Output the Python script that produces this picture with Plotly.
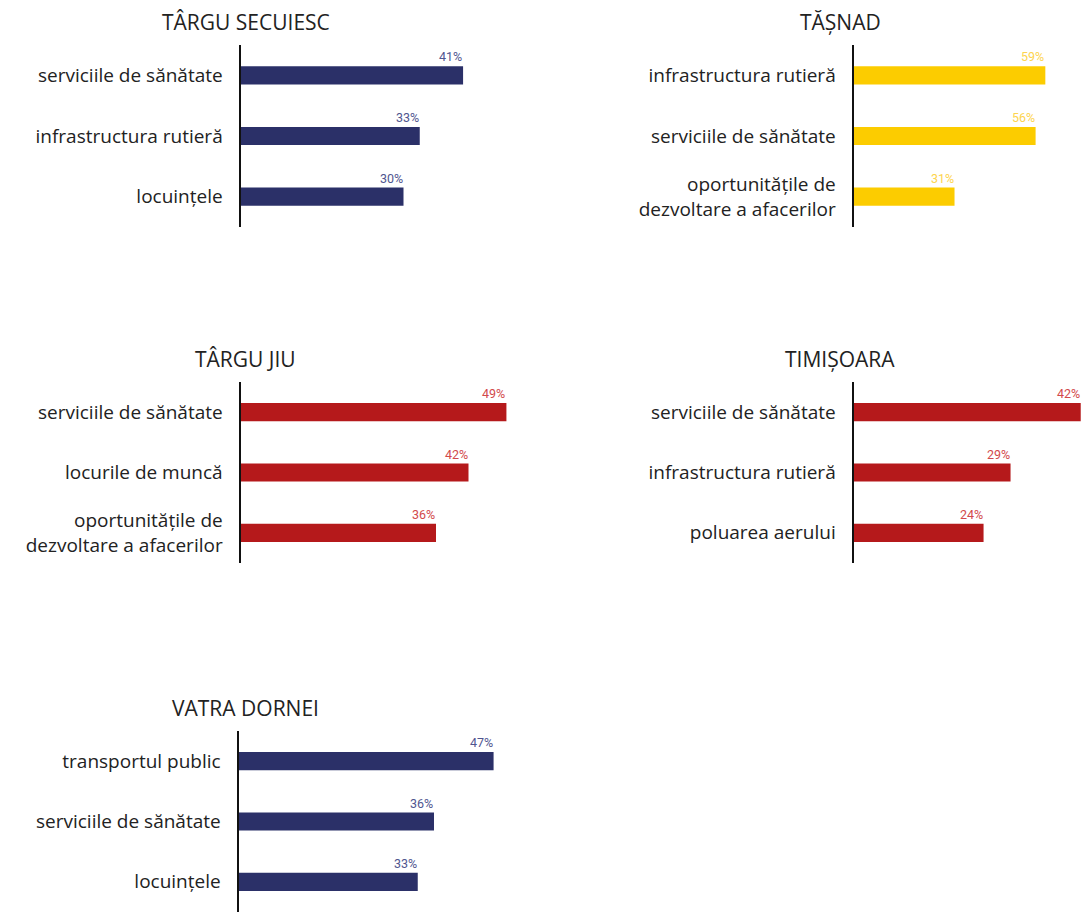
import plotly.graph_objects as go

W, H = 1081, 912

# ---- data ----
titles = ["TÂRGU SECUIESC", "TĂȘNAD", "TÂRGU JIU", "TIMIȘOARA", "VATRA DORNEI"]

cats_targu_secuiesc = ["serviciile de sănătate", "infrastructura rutieră", "locuințele"]
vals_targu_secuiesc = [41, 33, 30]

cats_tasnad = ["infrastructura rutieră", "serviciile de sănătate", "oportunitățile de<br>dezvoltare a afacerilor"]
vals_tasnad = [59, 56, 31]

cats_targu_jiu = ["serviciile de sănătate", "locurile de muncă", "oportunitățile de<br>dezvoltare a afacerilor"]
vals_targu_jiu = [49, 42, 36]

cats_timisoara = ["serviciile de sănătate", "infrastructura rutieră", "poluarea aerului"]
vals_timisoara = [42, 29, 24]

cats_vatra_dornei = ["transportul public", "serviciile de sănătate", "locuințele"]
vals_vatra_dornei = [47, 36, 33]

NAVY, NAVY_L = "#2b3068", "#50558f"
RED, RED_L = "#b5191b", "#d2494b"
YEL, YEL_L = "#fccc00", "#fdd44e"

panels = [
    dict(title=titles[0], cats=cats_targu_secuiesc, vals=vals_targu_secuiesc, col=NAVY, lcol=NAVY_L,
         x0=241, x1=566, xmax=60, ytop=45, ybot=227),
    dict(title=titles[1], cats=cats_tasnad, vals=vals_tasnad, col=YEL, lcol=YEL_L,
         x0=854, x1=1081, xmax=70, ytop=45, ybot=227),
    dict(title=titles[2], cats=cats_targu_jiu, vals=vals_targu_jiu, col=RED, lcol=RED_L,
         x0=241, x1=566, xmax=60, ytop=382, ybot=563),
    dict(title=titles[3], cats=cats_timisoara, vals=vals_timisoara, col=RED, lcol=RED_L,
         x0=854, x1=1081, xmax=42.05, ytop=382, ybot=563),
    dict(title=titles[4], cats=cats_vatra_dornei, vals=vals_vatra_dornei, col=NAVY, lcol=NAVY_L,
         x0=239, x1=564, xmax=60, ytop=731, ybot=912),
]

LABEL_FONT = "Open Sans"
fig = go.Figure()
annotations = []
layout = dict(
    width=W, height=H, margin=dict(l=0, r=0, t=0, b=0),
    paper_bgcolor="white", plot_bgcolor="white", showlegend=False,
)

for i, p in enumerate(panels, start=1):
    xa = "x" if i == 1 else f"x{i}"
    ya = "y" if i == 1 else f"y{i}"
    fig.add_trace(go.Bar(
        x=p["vals"], y=p["cats"], orientation="h", marker=dict(color=p["col"], line=dict(width=0)),
        xaxis=xa, yaxis=ya, hoverinfo="skip", width=0.3,
    ))
    xd = [p["x0"] / W, p["x1"] / W]
    yd = [(H - p["ybot"]) / H, (H - p["ytop"]) / H]
    layout["xaxis" if i == 1 else f"xaxis{i}"] = dict(
        domain=xd, range=[0, p["xmax"]], visible=False, anchor=ya, fixedrange=True,
    )
    layout["yaxis" if i == 1 else f"yaxis{i}"] = dict(
        domain=yd, anchor=xa, type="category", categoryorder="array", categoryarray=p["cats"],
        range=[2.5, -0.5], showline=True, linecolor="#111111", linewidth=2.5, showgrid=False,
        zeroline=False, ticks="", ticklabelstandoff=12,
        tickfont=dict(family=LABEL_FONT, size=19, color="#222222"), fixedrange=True,
    )
    for c, v in zip(p["cats"], p["vals"]):
        annotations.append(dict(
            xref=xa, yref=ya, x=v, y=c, text=f"{v}%", showarrow=False,
            xanchor="right", yanchor="bottom", yshift=9, xshift=1,
            font=dict(family="Roboto", size=12.5, color=p["lcol"]),
        ))
    cx = 245.5 if p["x0"] < 500 else 840
    annotations.append(dict(
        xref="paper", yref="paper", x=cx / W, y=(H - (p["ytop"] - 23)) / H,
        text=p["title"], showarrow=False, xanchor="center", yanchor="middle",
        font=dict(family="Open Sans", size=21, color="#222222"),
    ))

layout["annotations"] = annotations
fig.update_layout(**layout)
fig.write_html(
    "out.html",
    config={"displayModeBar": False, "staticPlot": True},
    post_script="document.body.style.margin='0';document.body.style.overflow='hidden';",
)
